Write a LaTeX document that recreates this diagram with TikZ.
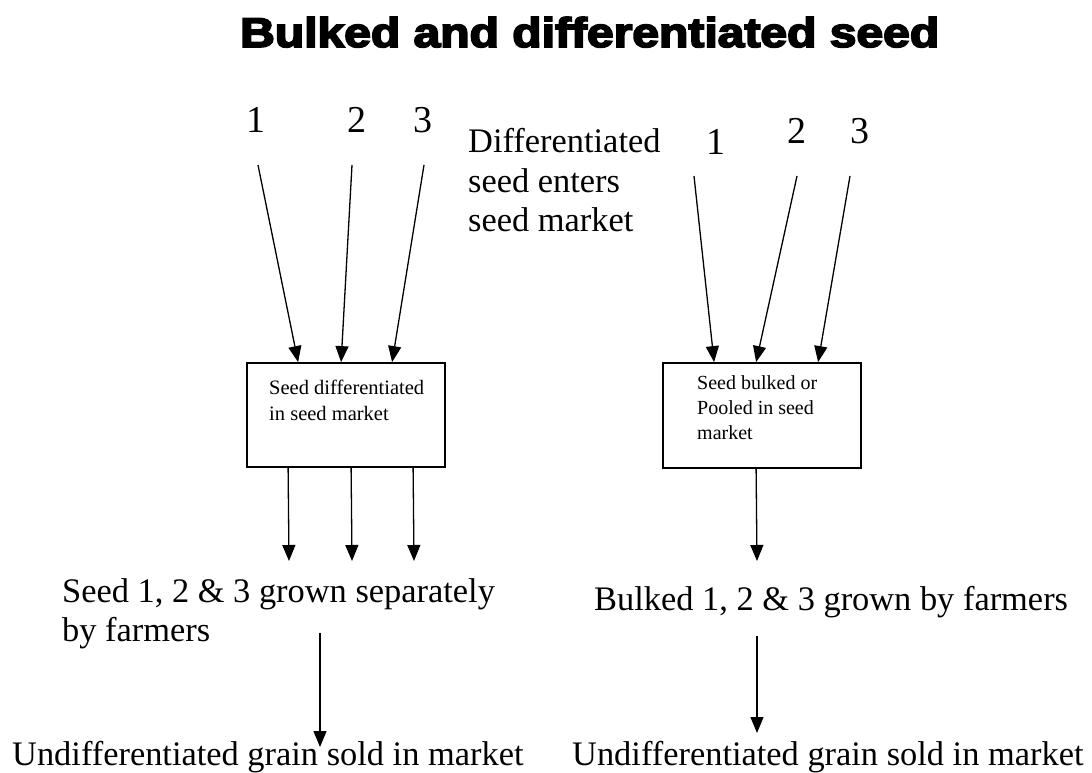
\documentclass[tikz,border=0pt]{standalone}
\usepackage{fontspec}
\setmainfont{Liberation Serif}
\newfontfamily\titlefont{Liberation Sans}[BoldFeatures={FakeBold=4}]
\usetikzlibrary{arrows.meta,calc}
\newcommand\stackedlines[1]{\begin{tabular}[t]{@{}l@{}}#1\end{tabular}}
\begin{document}
\begin{tikzpicture}[x=1pt,y=-1pt,
  lbl/.style={inner sep=0pt, anchor=base west, font=\fontsize{34.4}{39.5}\selectfont},
  num/.style={inner sep=0pt, anchor=base, font=\fontsize{38}{44}\selectfont},
  boxtext/.style={inner sep=0pt, anchor=base west},
  boxx/.style={draw, line width=1.8pt, minimum width=198pt, minimum height=104pt, inner sep=0pt},
  arr/.style={line width=1.3pt, -{Triangle[length=16pt,width=13pt]}}]
\useasboundingbox (0,0) rectangle (1092,773);
\fill[white] (0,0) rectangle (1092,773);

% title
\node[inner sep=0pt, anchor=base west] (title) at (240,47)
  {\scalebox{1.157}[1]{\titlefont\bfseries\fontsize{41.5}{48}\selectfont Bulked and differentiated seed}};

% numbers
\node[num] (ln1) at (256,132) {1};
\node[num] (ln2) at (357,132) {2};
\node[num] (ln3) at (423,132) {3};
\node[num] (rn1) at (716,154) {1};
\node[num] (rn2) at (797,143) {2};
\node[num] (rn3) at (860,143) {3};

\node[lbl] (diff) at (468,153) {\stackedlines{Differentiated\\seed enters\\seed market}};

% boxes
\node[boxx] (lbox) at (346,415) {};
\node[boxx, minimum height=105pt] (rbox) at (762,415.5) {};
\node[boxtext, font=\fontsize{20.5}{26}\selectfont] (ltext) at (269,394)
  {\stackedlines{Seed differentiated\\in seed market}};
\node[boxtext, font=\fontsize{20}{25}\selectfont] (rtext) at (697,389)
  {\stackedlines{Seed bulked or\\Pooled in seed\\market}};

% arrow starts
\coordinate (l1s) at (258,165);
\coordinate (l2s) at (352,165);
\coordinate (l3s) at (424,165);
\coordinate (r1s) at (694,176);
\coordinate (r2s) at (797,176);
\coordinate (r3s) at (850,176);

\draw[arr] (l1s) -- ($(lbox.north west)+(52,0)$);
\draw[arr] (l2s) -- ($(lbox.north west)+(95,0)$);
\draw[arr] (l3s) -- ($(lbox.north west)+(146,0)$);
\draw[arr] (r1s) -- ($(rbox.north west)+(52,0)$);
\draw[arr] (r2s) -- ($(rbox.north west)+(94,0)$);
\draw[arr] (r3s) -- ($(rbox.north west)+(156,0)$);

% down arrows from boxes
\coordinate (ld1) at (289,561);
\coordinate (ld2) at (352,561);
\coordinate (ld3) at (414,561);
\coordinate (rd) at (757,561);
\draw[arr] ($(lbox.south west)+(42,0)$) -- (ld1);
\draw[arr] ($(lbox.south west)+(105,0)$) -- (ld2);
\draw[arr] ($(lbox.south west)+(167,0)$) -- (ld3);
\draw[arr] ($(rbox.south west)+(94,0)$) -- (rd);

% middle texts
\node[lbl] (seedtxt) at (62,602) {\stackedlines{Seed 1, 2 \& 3 grown separately\\by farmers}};
\node[lbl] (bulktxt) at (594,610) {Bulked 1, 2 \& 3 grown by farmers};

% lower arrows
\coordinate (lls) at (320,633);
\coordinate (lle) at (320,747);
\coordinate (rls) at (757,636);
\coordinate (rle) at (757,733);
\draw[arr] (lls) -- (lle);
\draw[arr] (rls) -- (rle);

% bottom texts
\node[lbl] (lund) at (12,765) {Undifferentiated grain sold in market};
\node[lbl] (rund) at (572,765) {Undifferentiated grain sold in market};
\end{tikzpicture}
\end{document}
